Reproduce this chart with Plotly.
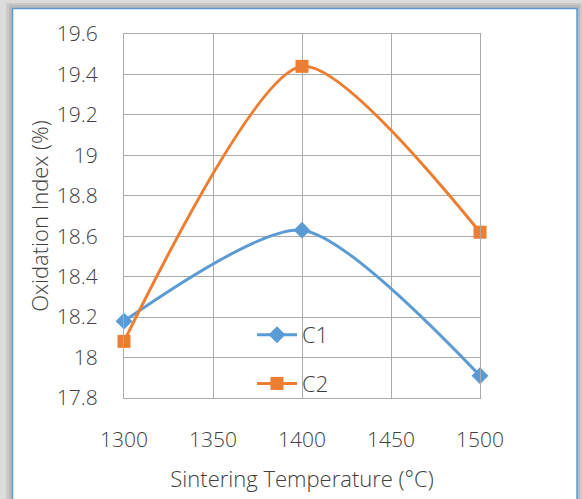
import plotly.graph_objects as go

temps = [1300, 1400, 1500]
c1_values = [18.18, 18.63, 17.91]
c2_values = [18.08, 19.44, 18.62]
series_names = ["C1", "C2"]
x_ticks = [1300, 1350, 1400, 1450, 1500]
y_ticks = [17.8, 18.0, 18.2, 18.4, 18.6, 18.8, 19.0, 19.2, 19.4, 19.6]
y_tick_labels = ["17.8", "18", "18.2", "18.4", "18.6", "18.8", "19", "19.2", "19.4", "19.6"]

FONT = "Open Sans"
TXT = "#404040"
WT = 300

fig = go.Figure()
fig.add_trace(go.Scatter(
    x=temps, y=c1_values, name=series_names[0], mode="lines+markers",
    line=dict(color="#5B9BD5", width=3, shape="spline", smoothing=0.7),
    marker=dict(symbol="diamond", size=13, color="#5B9BD5"),
    cliponaxis=False, legendgroup="a"))
fig.add_trace(go.Scatter(
    x=temps, y=c2_values, name=series_names[1], mode="lines+markers",
    line=dict(color="#ED7D31", width=3, shape="spline", smoothing=0.7),
    marker=dict(symbol="square", size=13, color="#ED7D31"),
    cliponaxis=False, legendgroup="b"))

L, R, T, B = 124, 102, 34, 101
W, H = 582, 499
pw, ph = W - L - R, H - T - B
def px(x): return (x - L) / pw
def py(y): return (H - B - y) / ph

shapes = [
    dict(type="rect", xref="paper", yref="paper", layer="below",
         x0=px(6), x1=px(582), y0=py(520), y1=py(3),
         fillcolor="rgba(0,0,0,0.08)", line=dict(width=0)),
    dict(type="rect", xref="paper", yref="paper", layer="below",
         x0=px(9), x1=px(580), y0=py(520), y1=py(5),
         fillcolor="rgba(0,0,0,0.08)", line=dict(width=0)),
    dict(type="rect", xref="paper", yref="paper", layer="below",
         x0=px(12.5), x1=px(577), y0=py(520), y1=py(8.5),
         fillcolor="white", line=dict(color="#5B9BD5", width=1.5)),
]

fig.update_layout(
    width=W, height=H,
    margin=dict(l=L, r=R, t=T, b=B, pad=0),
    paper_bgcolor="#dcdcdc", plot_bgcolor="white",
    font=dict(family=FONT, color=TXT, size=20, weight=WT),
    shapes=shapes,
    showlegend=True,
    legend=dict(x=px(252), y=py(314), xanchor="left", yanchor="top",
                bgcolor="rgba(0,0,0,0)", font=dict(size=22, color=TXT, weight=WT),
                traceorder="grouped", tracegroupgap=17, itemwidth=40),
    xaxis=dict(range=[1300, 1500], tickvals=x_ticks, showgrid=True,
               gridcolor="#ABABAB", gridwidth=1, zeroline=False,
               showline=True, linecolor="#ABABAB", mirror=True,
               ticks="", ticklabelstandoff=23,
               tickfont=dict(size=21, color=TXT, weight=WT),
               title=dict(text="Sintering Temperature (°C)", standoff=19,
                          font=dict(size=22, color=TXT, weight=WT))),
    yaxis=dict(range=[17.8, 19.6], tickvals=y_ticks, ticktext=y_tick_labels,
               showgrid=True, gridcolor="#ABABAB", gridwidth=1, zeroline=False,
               showline=True, linecolor="#ABABAB", mirror=True,
               ticks="", ticklabelstandoff=21,
               tickfont=dict(size=21, color=TXT, weight=WT),
               title=dict(text="Oxidation Index (%)", standoff=2,
                          font=dict(size=22, color=TXT, weight=WT))),
)

fig.write_html("out.html")
